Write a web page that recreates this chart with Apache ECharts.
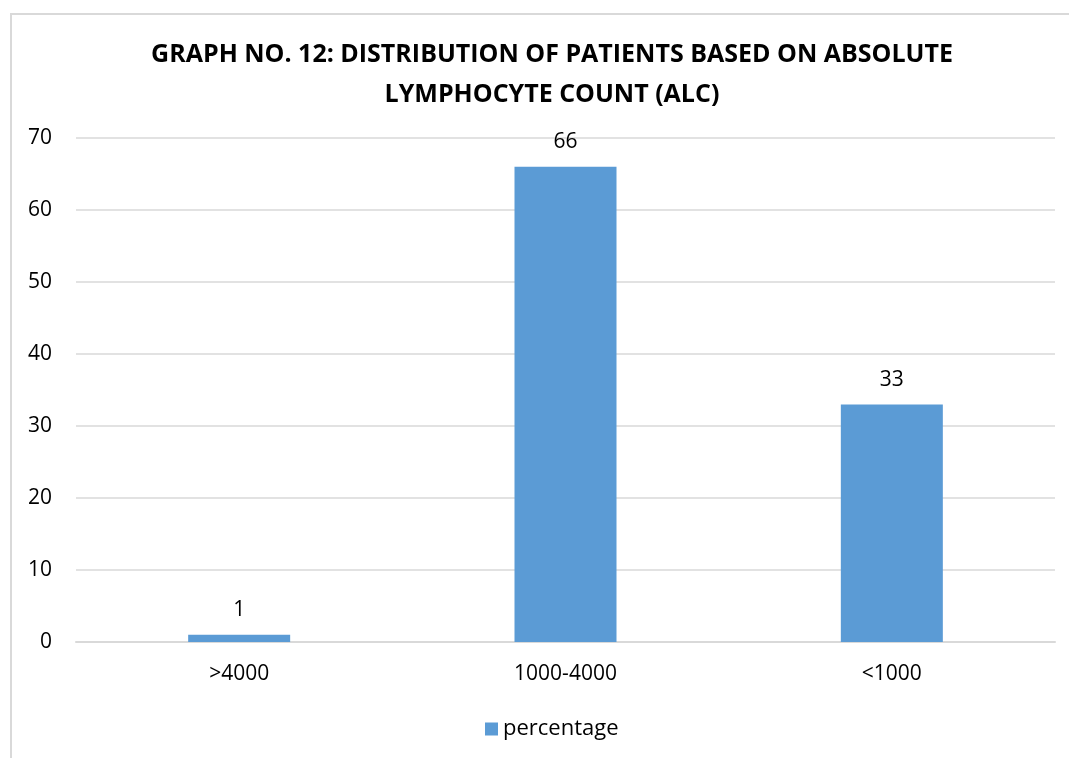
<!DOCTYPE html>
<html>
<head>
<meta charset="utf-8">
<script src="https://cdn.jsdelivr.net/npm/echarts@6/dist/echarts.min.js"></script>
<style>
  html, body { margin: 0; padding: 0; background: #fff; }
  #chart { width: 1069px; height: 758px; }
</style>
</head>
<body>
<div id="chart"></div>
<script>
// ALC groups and the share of patients in each
const categories = ['>4000', '1000-4000', '<1000'];
const percentage = [1, 66, 33];
const yTicks = { min: 0, max: 70, interval: 10 };

const FONT = '"Open Sans", "Noto Sans", sans-serif';
const chart = echarts.init(document.getElementById('chart'), null, { renderer: 'canvas' });

chart.setOption({
  animation: false,
  backgroundColor: '#fff',
  title: {
    text: 'GRAPH NO. 12: DISTRIBUTION OF PATIENTS BASED ON ABSOLUTE\nLYMPHOCYTE COUNT (ALC)',
    left: 547,
    textAlign: 'center',
    top: 30,
    textStyle: { fontFamily: FONT, fontWeight: 'bold', fontSize: 25, color: '#000', lineHeight: 40 }
  },
  graphic: [{
    type: 'rect',
    shape: { x: 11, y: 14, width: 1100, height: 800 },
    style: { fill: 'none', stroke: '#d9d9d9', lineWidth: 2 },
    silent: true
  }],
  legend: {
    top: 713,
    left: 480,
    itemWidth: 13,
    itemHeight: 13,
    icon: 'rect',
    textStyle: { fontFamily: FONT, fontSize: 22, color: '#000' },
    data: ['percentage']
  },
  grid: { left: 76, right: 14, top: 138, bottom: 116, containLabel: false },
  xAxis: {
    type: 'category',
    data: categories,
    axisLine: { lineStyle: { color: '#d9d9d9', width: 2 } },
    axisTick: { show: false },
    axisLabel: { fontFamily: FONT, fontSize: 21, color: '#000', margin: 22 }
  },
  yAxis: {
    type: 'value',
    min: yTicks.min, max: yTicks.max, interval: yTicks.interval,
    axisLine: { show: false },
    axisTick: { show: false },
    splitLine: { lineStyle: { color: '#d9d9d9', width: 1.5 } },
    axisLabel: { fontFamily: FONT, fontSize: 21, color: '#000', margin: 24 }
  },
  series: [{
    name: 'percentage',
    type: 'bar',
    data: percentage,
    barWidth: 102,
    itemStyle: { color: '#5B9BD5' },
    label: { show: true, position: 'top', distance: 14, fontFamily: FONT, fontSize: 21, color: '#000' }
  }]
});
</script>
</body>
</html>
